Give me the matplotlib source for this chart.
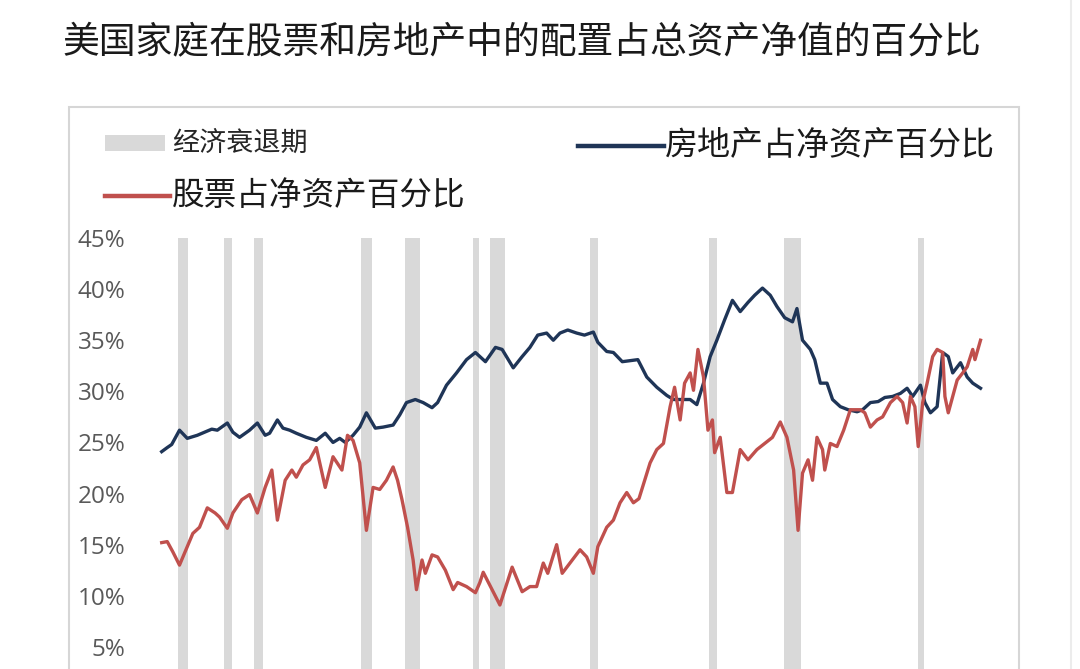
import matplotlib
matplotlib.use('Agg')
import matplotlib.pyplot as plt
from matplotlib.patches import Rectangle
from matplotlib.lines import Line2D

plt.rcParams['font.family'] = ['Noto Sans CJK SC', 'DejaVu Sans']

# ---- data ----
title = '美国家庭在股票和房地产中的配置占总资产净值的百分比'
label_recession = '经济衰退期'
label_house = '房地产占净资产百分比'
label_stock = '股票占净资产百分比'

recession_start = [1953.5, 1957.6, 1960.3, 1969.9, 1973.9, 1980.0, 1981.5, 1990.5, 2001.2, 2007.9, 2020.0]
recession_end = [1954.4, 1958.3, 1961.1, 1970.9, 1975.2, 1980.5, 1982.9, 1991.2, 2001.9, 2009.5, 2020.5]

house_years = [1952.0, 1952.5, 1952.9, 1953.6, 1954.3, 1955.2, 1956.5, 1957.0, 1957.9, 1958.4,
               1959.0, 1959.9, 1960.6, 1961.3, 1961.7, 1962.4, 1962.9, 1963.5, 1964.1, 1965.0,
               1965.9, 1966.7, 1967.4, 1968.0, 1968.5, 1969.2, 1969.8, 1970.4, 1971.2, 1971.9,
               1972.8, 1973.4, 1974.0, 1974.8, 1975.5, 1976.3, 1976.8, 1977.6, 1978.5, 1979.4,
               1980.2, 1981.1, 1982.0, 1982.6, 1983.6, 1984.4, 1985.1, 1985.8, 1986.6, 1987.2,
               1987.8, 1988.5, 1989.3, 1990.0, 1990.8, 1991.2, 1992.0, 1992.6, 1993.4, 1994.1,
               1994.8, 1995.6, 1996.5, 1997.4, 1998.0, 1998.9, 1999.5, 2000.1, 2000.7, 2001.3,
               2001.9, 2002.6, 2003.3, 2004.0, 2004.7, 2005.3, 2006.0, 2006.7, 2007.3, 2008.0,
               2008.7, 2009.1, 2009.6, 2010.3, 2010.7, 2011.2, 2011.8, 2012.3, 2013.0, 2013.7,
               2014.5, 2015.0, 2015.7, 2016.4, 2017.0, 2017.7, 2018.4, 2019.0, 2019.5, 2020.2,
               2020.6, 2021.1, 2021.7, 2022.2, 2022.7, 2023.1, 2023.8, 2024.4, 2024.9, 2025.6]
house_pct = [24.1, 24.5, 24.8, 26.2, 25.4, 25.7, 26.3, 26.2, 26.9, 26.0,
             25.5, 26.2, 26.9, 25.7, 25.9, 27.2, 26.4, 26.2, 25.9, 25.5,
             25.2, 25.9, 25.0, 25.4, 25.0, 25.7, 26.5, 27.9, 26.4, 26.5,
             26.7, 27.7, 28.9, 29.2, 28.9, 28.4, 28.9, 30.6, 31.8, 33.1,
             33.8, 32.9, 34.3, 34.1, 32.3, 33.4, 34.3, 35.5, 35.7, 35.0,
             35.7, 36.0, 35.7, 35.5, 35.8, 34.8, 33.9, 33.8, 32.9, 33.0,
             33.1, 31.4, 30.4, 29.6, 29.2, 29.2, 29.2, 28.7, 30.8, 33.4,
             35.0, 37.0, 38.9, 37.8, 38.7, 39.4, 40.1, 39.4, 38.3, 37.2,
             36.8, 38.1, 35.0, 34.1, 33.1, 30.8, 30.8, 29.2, 28.5, 28.2,
             28.0, 28.2, 28.9, 29.0, 29.4, 29.5, 29.8, 30.3, 29.5, 30.6,
             28.9, 27.9, 28.5, 33.8, 33.4, 31.8, 32.8, 31.4, 30.8, 30.3]

stock_years = [1952.0, 1952.5, 1953.0, 1953.6, 1954.3, 1954.8, 1955.4, 1956.1, 1956.8, 1957.2,
               1957.9, 1958.4, 1959.2, 1959.9, 1960.6, 1961.3, 1961.9, 1962.4, 1963.1, 1963.7,
               1964.1, 1964.7, 1965.3, 1965.9, 1966.7, 1967.4, 1968.2, 1968.7, 1969.2, 1969.8,
               1970.4, 1971.0, 1971.6, 1972.2, 1972.8, 1973.2, 1973.6, 1974.1, 1974.6, 1974.9,
               1975.4, 1975.7, 1976.3, 1976.8, 1977.5, 1978.2, 1978.6, 1979.4, 1980.2, 1980.6,
               1980.9, 1981.7, 1982.4, 1983.5, 1984.4, 1985.1, 1985.7, 1986.3, 1986.7, 1987.5,
               1988.0, 1988.7, 1989.6, 1990.2, 1990.8, 1991.2, 1992.0, 1992.6, 1993.2, 1993.8,
               1994.4, 1994.9, 1995.9, 1996.5, 1997.1, 1997.7, 1998.1, 1998.6, 1999.0, 1999.5,
               1999.8, 2000.2, 2000.7, 2001.1, 2001.5, 2001.7, 2002.2, 2002.8, 2003.3, 2004.0,
               2004.7, 2005.5, 2006.2, 2006.9, 2007.6, 2008.2, 2008.8, 2009.2, 2009.6, 2010.1,
               2010.5, 2010.9, 2011.4, 2011.6, 2012.1, 2012.7, 2013.3, 2013.9, 2014.3, 2014.8,
               2015.2, 2015.7, 2016.3, 2016.8, 2017.5, 2018.1, 2018.6, 2019.0, 2019.3, 2019.7,
               2020.0, 2020.4, 2020.8, 2021.3, 2021.7, 2022.2, 2022.4, 2022.7, 2023.1, 2023.5,
               2024.0, 2024.4, 2024.9, 2025.1, 2025.6]
stock_pct = [15.2, 15.3, 14.3, 13.0, 14.8, 16.1, 16.7, 18.6, 18.1, 17.7,
             16.6, 18.1, 19.4, 19.9, 18.1, 20.6, 22.3, 17.4, 21.3, 22.3,
             21.6, 22.8, 23.3, 24.5, 20.6, 23.6, 22.3, 25.7, 25.2, 23.0,
             16.4, 20.6, 20.4, 21.3, 22.6, 21.3, 19.4, 16.7, 13.5, 10.6,
             13.5, 12.2, 14.0, 13.8, 12.5, 10.6, 11.3, 10.9, 10.3, 11.3,
             12.3, 10.6, 9.1, 12.8, 10.4, 10.9, 10.9, 13.2, 12.2, 15.0,
             12.2, 13.2, 14.5, 13.8, 12.2, 14.8, 16.7, 17.4, 19.1, 20.1,
             19.1, 19.5, 23.0, 24.3, 24.9, 28.5, 30.4, 27.2, 30.8, 31.8,
             30.1, 34.1, 31.4, 26.2, 27.2, 24.0, 25.5, 20.1, 20.1, 24.3,
             23.3, 24.3, 24.9, 25.5, 27.0, 25.5, 22.3, 16.4, 22.0, 23.3,
             21.3, 25.5, 24.3, 22.3, 24.9, 24.6, 26.2, 28.2, 28.2, 28.2,
             27.9, 26.5, 27.2, 27.5, 28.9, 29.5, 28.9, 26.9, 29.5, 28.5,
             24.6, 28.9, 30.8, 33.4, 34.1, 33.8, 29.5, 27.9, 29.5, 31.1,
             31.8, 32.4, 34.1, 33.1, 35.0]

y_ticks = [5, 10, 15, 20, 25, 30, 35, 40, 45]
y_tick_labels = ['5%', '10%', '15%', '20%', '25%', '30%', '35%', '40%', '45%']

blue = '#1f3557'
red = '#c0504d'
gray_bar = '#d9d9d9'

# ---- layout in pixels of a 1080x669 picture ----
W, H = 1080, 669


def fx(x):
    return x / W


def fy(y):
    return 1 - y / H


fig = plt.figure(figsize=(W / 100, H / 100), dpi=100)
fig.patch.set_facecolor('white')

fig.text(fx(62), fy(43), title, fontsize=26.5, color='#1a1a1a', va='center', ha='left')

# outer frame of the chart card and the page edge
fig.add_artist(Rectangle((fx(69), fy(720)), fx(1019) - fx(69), fy(107) - fy(720),
                         transform=fig.transFigure, fill=False, edgecolor='#d6d6d6', linewidth=1.5))
fig.add_artist(Line2D([fx(1071), fx(1071)], [0, 1], transform=fig.transFigure,
                      color='#ececec', linewidth=1.5))

# plot area: 0% falls just under the picture's bottom edge
ax = fig.add_axes([fx(145), fy(698), fx(1005) - fx(145), fy(238) - fy(698)])
for s, e in zip(recession_start, recession_end):
    ax.axvspan(s, e, color=gray_bar, linewidth=0, zorder=1)
ax.plot(house_years, house_pct, color=blue, linewidth=2.4, zorder=3)
ax.plot(stock_years, stock_pct, color=red, linewidth=2.4, zorder=3)

ax.set_xlim(1950.5, 2027.8)
ax.set_ylim(0, 45)
ax.set_yticks(y_ticks)
ax.set_yticklabels(y_tick_labels, fontfamily=['Open Sans', 'DejaVu Sans'], fontsize=17.5, color='#595959')
ax.set_xticks([])
ax.tick_params(axis='y', length=0, pad=14)
for sp in ax.spines.values():
    sp.set_visible(False)

# legend drawn by hand
fig.add_artist(Rectangle((fx(105), fy(151)), fx(165) - fx(105), fy(135) - fy(151),
                         transform=fig.transFigure, facecolor=gray_bar, edgecolor='none'))
fig.text(fx(172), fy(143), label_recession, fontsize=19.5, color='#262626', va='center', ha='left')

fig.add_artist(Line2D([fx(578), fx(664)], [fy(146), fy(146)], transform=fig.transFigure,
                      color=blue, linewidth=3.2))
fig.text(fx(665), fy(145), label_house, fontsize=23.8, color='#1a1a1a', va='center', ha='left')

fig.add_artist(Line2D([fx(105), fx(170)], [fy(196), fy(196)], transform=fig.transFigure,
                      color=red, linewidth=3.2))
fig.text(fx(172), fy(196), label_stock, fontsize=23.5, color='#1a1a1a', va='center', ha='left')

fig.savefig('out.png', dpi=100)
